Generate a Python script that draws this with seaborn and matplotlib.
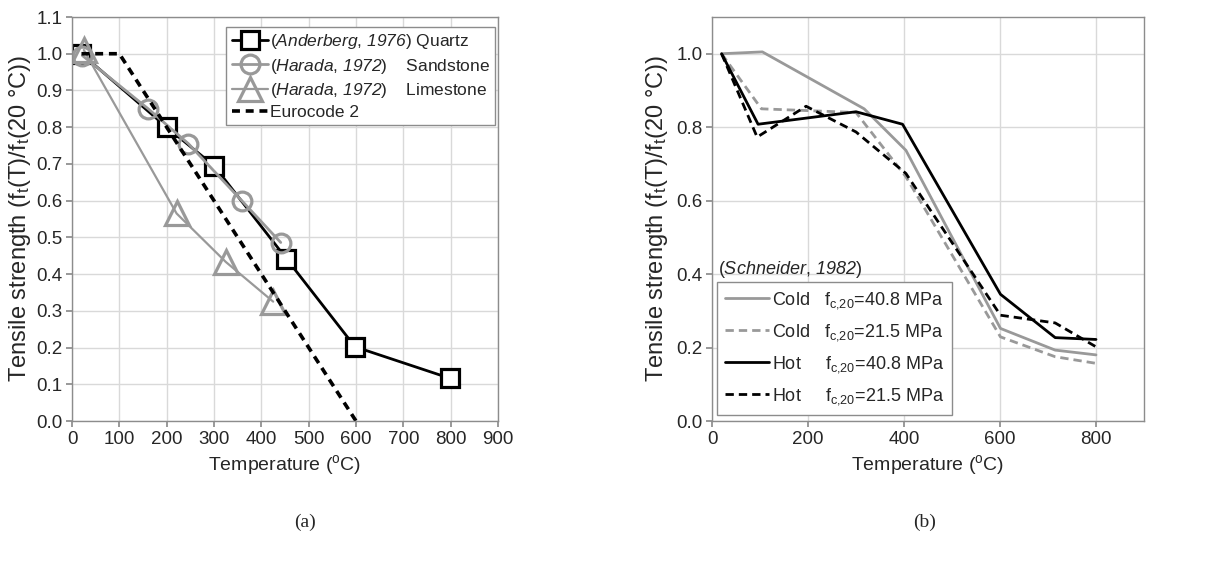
import numpy as np
import pandas as pd
import matplotlib
matplotlib.use("Agg")
import matplotlib.pyplot as plt
import seaborn as sns

# ---- data (panel a) ----
quartz_T = [20, 200, 300, 453, 598, 799]
quartz_v = [1.0, 0.80, 0.695, 0.442, 0.202, 0.116]
sand_T = [22, 161, 246, 360, 441]
sand_v = [0.995, 0.85, 0.755, 0.598, 0.486]
lime_T = [25, 221, 325, 425]
lime_v = [1.01, 0.565, 0.433, 0.325]
ec2_T = [20, 100, 600]
ec2_v = [1.0, 1.0, 0.0]

# ---- data (panel b) ----
cold408_T = [20, 105, 317, 404, 601, 715, 800]
cold408_v = [1.0, 1.005, 0.85, 0.737, 0.252, 0.193, 0.18]
cold215_T = [20, 103, 300, 404, 601, 715, 800]
cold215_v = [1.0, 0.85, 0.84, 0.665, 0.229, 0.175, 0.157]
hot408_T = [20, 96, 300, 397, 601, 715, 800]
hot408_v = [1.0, 0.808, 0.842, 0.808, 0.345, 0.227, 0.222]
hot215_T = [20, 94, 196, 300, 404, 601, 715, 800]
hot215_v = [1.0, 0.773, 0.857, 0.787, 0.674, 0.288, 0.267, 0.202]

labels_a = [r"($\mathsf{Anderberg}$, $\mathsf{1976}$) Quartz",
            r"($\mathsf{Harada}$, $\mathsf{1972}$)    Sandstone",
            r"($\mathsf{Harada}$, $\mathsf{1972}$)    Limestone",
            "Eurocode 2"]
labels_b = [r"Cold   f$_\mathregular{c{,}20}$=40.8 MPa",
            r"Cold   f$_\mathregular{c{,}20}$=21.5 MPa",
            r"Hot     f$_\mathregular{c{,}20}$=40.8 MPa",
            r"Hot     f$_\mathregular{c{,}20}$=21.5 MPa"]

sns.set_theme(style="whitegrid")
plt.rcParams['font.family'] = ['Liberation Sans', 'DejaVu Sans']
plt.rcParams['mathtext.fontset'] = 'custom'
plt.rcParams['mathtext.rm'] = 'Liberation Sans'
plt.rcParams['mathtext.it'] = 'Liberation Sans:italic'
plt.rcParams['mathtext.sf'] = 'Liberation Sans:italic'
plt.rcParams['mathtext.bf'] = 'Liberation Sans:bold'

GRAY = '#999999'
GRID = '#d9d9d9'
SPINE = '#8c8c8c'
FS = 13.5
YFS = 17
XFS = 14

fig = plt.figure(figsize=(12.28, 5.64), dpi=100)
axA = fig.add_axes([72/1228, 1-421/564, (498-72)/1228, (421-17)/564])
axB = fig.add_axes([712/1228, 1-421/564, (1144-712)/1228, (421-17)/564])

def style_axes(ax):
    ax.set_facecolor('white')
    ax.grid(True, color=GRID, linewidth=1.0)
    for s in ax.spines.values():
        s.set_color(SPINE)
        s.set_linewidth(1.0)
    ax.tick_params(axis='both', which='both', direction='out', length=4,
                   color=SPINE, labelsize=FS, pad=3, left=True, bottom=True)

YLABEL = r"Tensile strength (f$_\mathregular{t}$(T)/f$_\mathregular{t}$(20 °C))"
XLABEL = r"Temperature ($^\mathregular{o}$C)"

# ---- panel a ----
dfs = [
    (quartz_T, quartz_v, dict(color='black', marker='s', markersize=12.5, linewidth=2.0,
                               markerfacecolor='white', markeredgecolor='black', markeredgewidth=2.3)),
    (sand_T, sand_v, dict(color=GRAY, marker='o', markersize=13.5, linewidth=2.0,
                           markerfacecolor='none', markeredgecolor=GRAY, markeredgewidth=2.3)),
    (lime_T, lime_v, dict(color=GRAY, marker='^', markersize=17, linewidth=1.6,
                           markerfacecolor='none', markeredgecolor=GRAY, markeredgewidth=2.3)),
    (ec2_T, ec2_v, dict(color='black', linestyle=(0, (2.2, 1.6)), linewidth=2.6)),
]
for (T, v, kw), lab in zip(dfs, labels_a):
    df = pd.DataFrame({'T': T, 'v': v})
    sns.lineplot(data=df, x='T', y='v', ax=axA, sort=False, label=lab, **kw)

style_axes(axA)
axA.set_xlim(0, 900)
axA.set_ylim(0, 1.1)
axA.set_xticks(np.arange(0, 901, 100))
yt = np.round(np.arange(0, 1.11, 0.1), 1)
axA.set_yticks(yt)
axA.set_yticklabels([f"{t:.1f}" for t in yt])
axA.set_xlabel(XLABEL, fontsize=XFS, labelpad=4)
axA.set_ylabel(YLABEL, fontsize=YFS, labelpad=2)
legA = axA.legend(loc='upper right', bbox_to_anchor=(0.993, 0.975), fontsize=12.5,
                  frameon=True, fancybox=False, edgecolor=SPINE, framealpha=1,
                  handlelength=2.1, handletextpad=0.1, borderpad=0.3,
                  labelspacing=0.3, borderaxespad=0.0)
legA.get_frame().set_linewidth(1.0)

# ---- panel b ----
dfsB = [
    (cold408_T, cold408_v, dict(color=GRAY, linewidth=2.0)),
    (cold215_T, cold215_v, dict(color=GRAY, linewidth=2.0, linestyle=(0, (3, 1.8)))),
    (hot408_T, hot408_v, dict(color='black', linewidth=2.0)),
    (hot215_T, hot215_v, dict(color='black', linewidth=2.0, linestyle=(0, (3, 1.8)))),
]
for (T, v, kw), lab in zip(dfsB, labels_b):
    df = pd.DataFrame({'T': T, 'v': v})
    sns.lineplot(data=df, x='T', y='v', ax=axB, sort=False, label=lab, **kw)

style_axes(axB)
axB.set_xlim(0, 900)
axB.set_ylim(0, 1.1)
axB.set_xticks([0, 200, 400, 600, 800])
ytb = [0, 0.2, 0.4, 0.6, 0.8, 1.0]
axB.set_yticks(ytb)
axB.set_yticklabels([f"{t:.1f}" for t in ytb])
axB.set_xlabel(XLABEL, fontsize=XFS, labelpad=4)
axB.set_ylabel(YLABEL, fontsize=YFS, labelpad=4)
legB = axB.legend(loc='lower left', bbox_to_anchor=(0.012, 0.015), fontsize=13,
                  frameon=True, fancybox=False, edgecolor=SPINE, framealpha=1,
                  handlelength=2.4, handletextpad=0.2, borderpad=0.45,
                  labelspacing=0.62, borderaxespad=0.0)
legB.get_frame().set_linewidth(1.0)
axB.text(0.015, 0.374, r"($\mathsf{Schneider}$, $\mathsf{1982}$)", transform=axB.transAxes,
         fontsize=13, ha='left', va='center')

# captions
fig.text(305/1228, 1-522/564, "(a)", family='Liberation Serif', fontsize=14,
         ha='center', va='center')
fig.text(925/1228, 1-522/564, "(b)", family='Liberation Serif', fontsize=14,
         ha='center', va='center')

fig.savefig("out.png", dpi=100, facecolor='white')
